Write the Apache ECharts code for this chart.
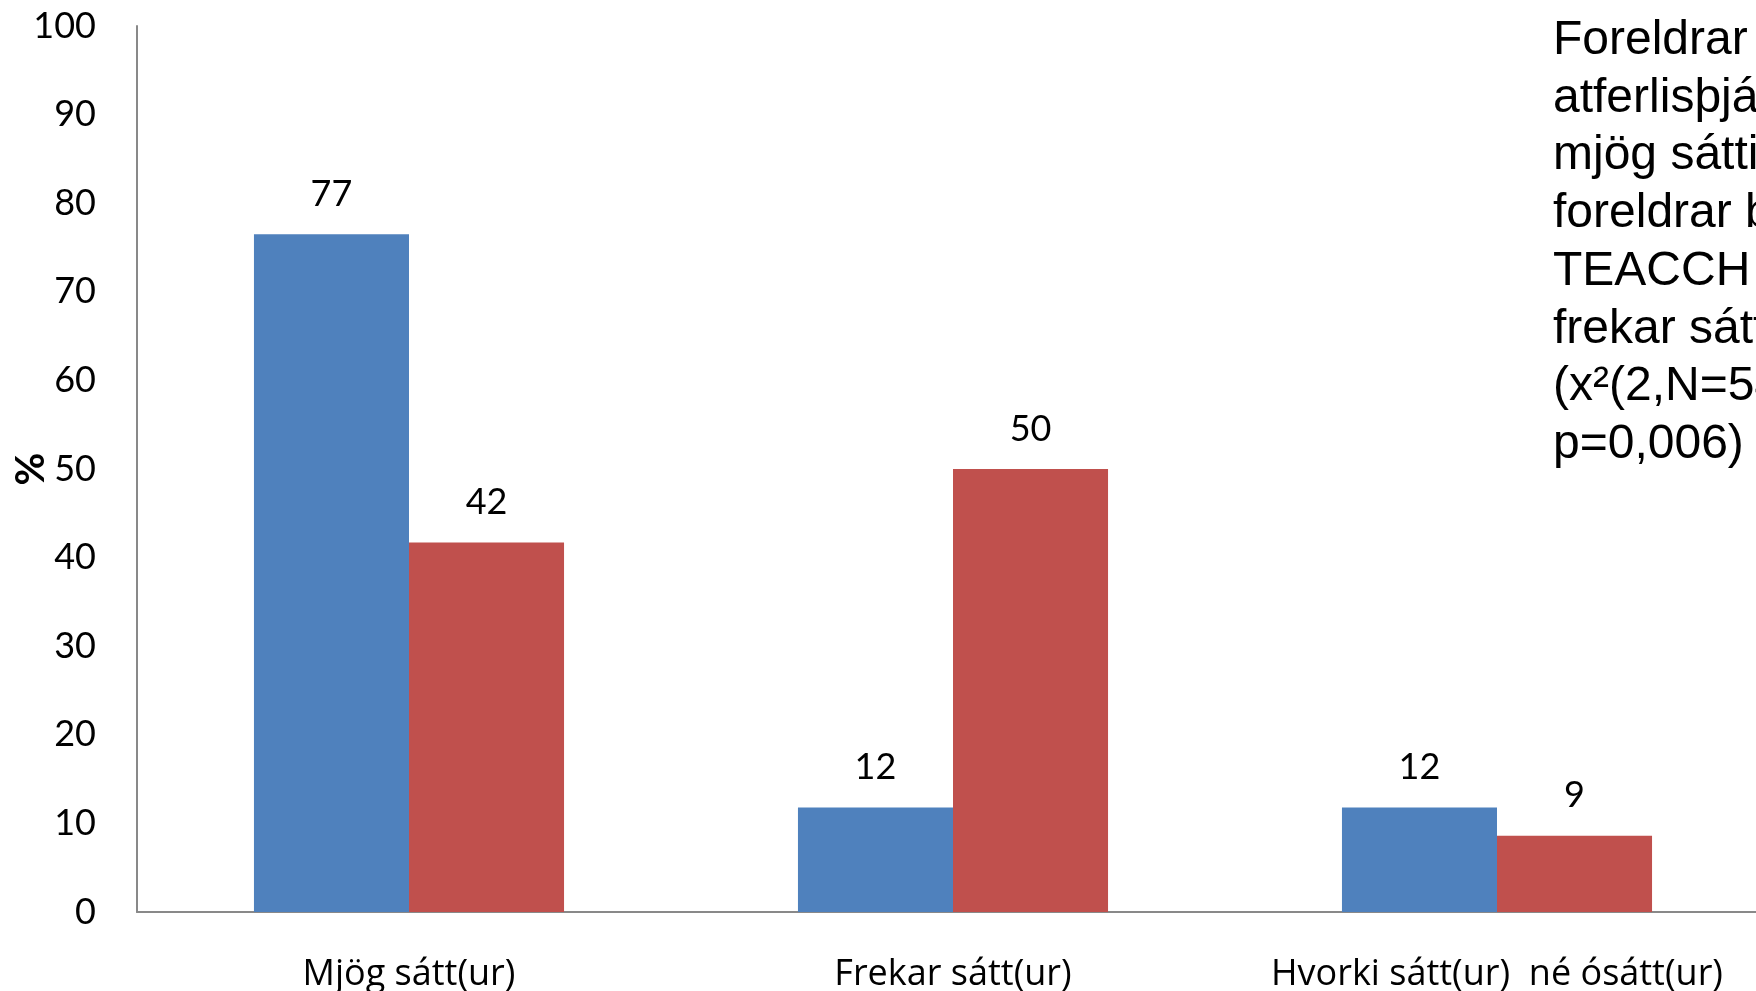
<!DOCTYPE html>
<html>
<head>
<meta charset="utf-8">
<script src="https://cdn.jsdelivr.net/npm/echarts@6/dist/echarts.min.js"></script>
<style>
html,body{margin:0;padding:0;background:#fff;}
#chart{width:1756px;height:991px;}
</style>
</head>
<body>
<div id="chart"></div>
<script>
const categories = ['Mjög sátt(ur)', 'Frekar sátt(ur)', 'Hvorki sátt(ur)  né ósátt(ur)'];
const seriesBlue = [76.5, 11.8, 11.8];
const seriesRed = [41.7, 50, 8.6];
const yTicks = [0, 10, 20, 30, 40, 50, 60, 70, 80, 90, 100];
const noteLines = [
  'Foreldrar barna í',
  'atferlisþjálfun voru',
  'mjög sáttir en',
  'foreldrar barna í',
  'TEACCH voru',
  'frekar sáttir',
  '(x²(2,N=54)=10,3,',
  'p=0,006)'
];

const chart = echarts.init(document.getElementById('chart'));
const labelFont = 'Lato, "Open Sans", sans-serif';
const roundLabel = p => String(Math.round(p.value));
chart.setOption({
  animation: false,
  backgroundColor: '#ffffff',
  grid: { left: 137, right: -13, top: 26, bottom: 79, containLabel: false, outerBoundsMode: 'none' },
  xAxis: {
    type: 'category',
    data: categories,
    axisLine: { lineStyle: { color: '#898989', width: 2 } },
    axisTick: { show: false },
    axisLabel: { color: '#000', fontFamily: '"Open Sans", sans-serif', fontSize: 36, margin: 45, interval: 0 }
  },
  yAxis: {
    type: 'value',
    min: yTicks[0],
    max: yTicks[yTicks.length - 1],
    interval: yTicks[1] - yTicks[0],
    name: '%',
    nameLocation: 'middle',
    nameGap: 86,
    nameMoveOverlap: false,
    nameTextStyle: { color: '#000', fontFamily: labelFont, fontWeight: 'bold', fontSize: 40 },
    axisLine: { show: true, lineStyle: { color: '#898989', width: 2 } },
    axisTick: { show: false },
    splitLine: { show: false },
    axisLabel: { color: '#000', fontFamily: labelFont, fontSize: 36, margin: 41 }
  },
  series: [
    {
      type: 'bar',
      data: seriesBlue,
      barGap: '0%',
      barCategoryGap: '43%',
      itemStyle: { color: '#4F81BD' },
      label: { show: true, position: 'top', distance: 22, color: '#000', fontFamily: labelFont, fontSize: 36, formatter: roundLabel }
    },
    {
      type: 'bar',
      data: seriesRed,
      barGap: '0%',
      barCategoryGap: '43%',
      itemStyle: { color: '#C0504D' },
      label: { show: true, position: 'top', distance: 22, color: '#000', fontFamily: labelFont, fontSize: 36, formatter: roundLabel }
    }
  ],
  graphic: [
    {
      type: 'text',
      left: 1553,
      top: 12,
      style: {
        text: noteLines.join('\n'),
        fill: '#000',
        font: '48px "Liberation Sans", Arial, sans-serif',
        lineHeight: 57.7
      }
    }
  ]
});
</script>
</body>
</html>
